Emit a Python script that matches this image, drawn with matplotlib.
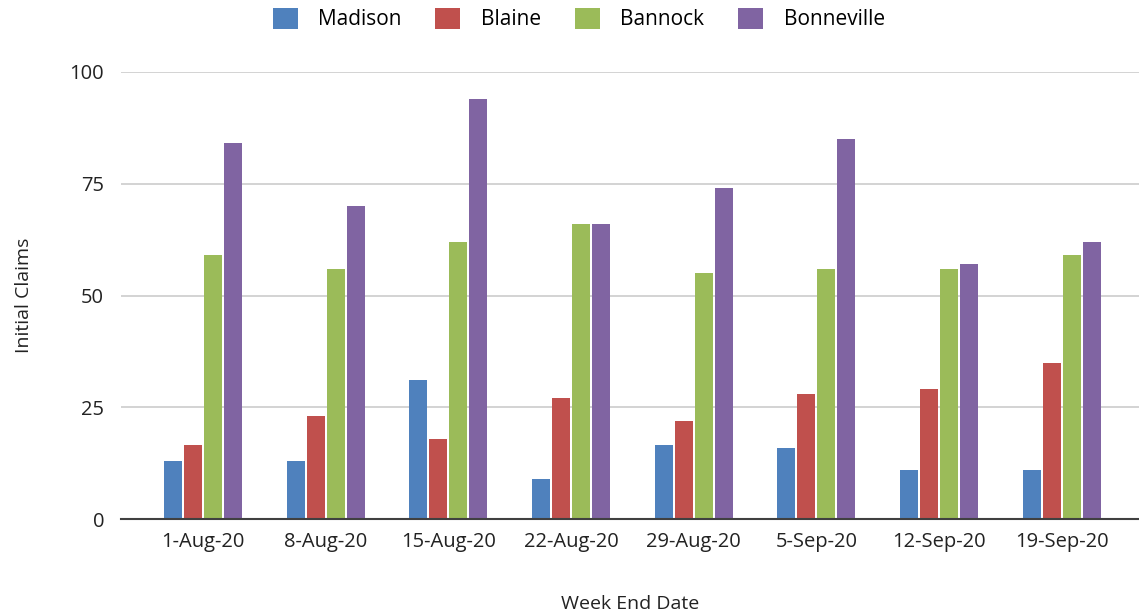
import numpy as np
import matplotlib
matplotlib.use('Agg')
import matplotlib.pyplot as plt

plt.rcParams['font.family'] = ['Open Sans', 'DejaVu Sans']

weeks = ['1-Aug-20', '8-Aug-20', '15-Aug-20', '22-Aug-20',
         '29-Aug-20', '5-Sep-20', '12-Sep-20', '19-Sep-20']
madison = [13, 13, 31, 9, 16.5, 16, 11, 11]
blaine = [16.5, 23, 18, 27, 22, 28, 29, 35]
bannock = [59, 56, 62, 66, 55, 56, 56, 59]
bonneville = [84, 70, 94, 66, 74, 85, 57, 62]

series = [('Madison', madison, '#4F81BD'),
          ('Blaine', blaine, '#C0504D'),
          ('Bannock', bannock, '#9BBB59'),
          ('Bonneville', bonneville, '#8064A2')]

fig = plt.figure(figsize=(11.39, 6.15), dpi=100)
ax = fig.add_axes([0.106, 0.156, 0.894, 0.727])

x = np.arange(len(weeks))
pitch = 0.163
width = 0.147
for i, (name, vals, col) in enumerate(series):
    ax.bar(x + (i - 1.5) * pitch, vals, width, color=col, label=name, zorder=3)

ax.set_xlim(-0.67, 7.63)
ax.set_ylim(0, 100)
ax.set_yticks([0, 25, 50, 75, 100])
ax.set_xticks(x)
ax.set_xticklabels(weeks)
ax.grid(axis='y', color='#d0d0d0', linewidth=1.3, zorder=0)
for s in ['top', 'right', 'left']:
    ax.spines[s].set_visible(False)
ax.spines['bottom'].set_color('#404040')
ax.spines['bottom'].set_linewidth(1.5)
ax.spines['bottom'].set_zorder(4)
ax.tick_params(axis='y', length=0, labelsize=14.5, pad=12, labelcolor='#222222')
ax.tick_params(axis='x', length=0, labelsize=14.5, pad=9, labelcolor='#222222')
ax.set_ylabel('Initial Claims', fontsize=14, labelpad=26, color='#222222')
ax.set_xlabel('Week End Date', fontsize=14, labelpad=31, color='#222222')

fig.legend(loc='upper center', bbox_to_anchor=(0.508, 1.018), ncol=4, frameon=False,
           fontsize=15, handlelength=1.2, handleheight=1.2, columnspacing=1.6,
           handletextpad=1.0)

fig.savefig('out.png', dpi=100)
